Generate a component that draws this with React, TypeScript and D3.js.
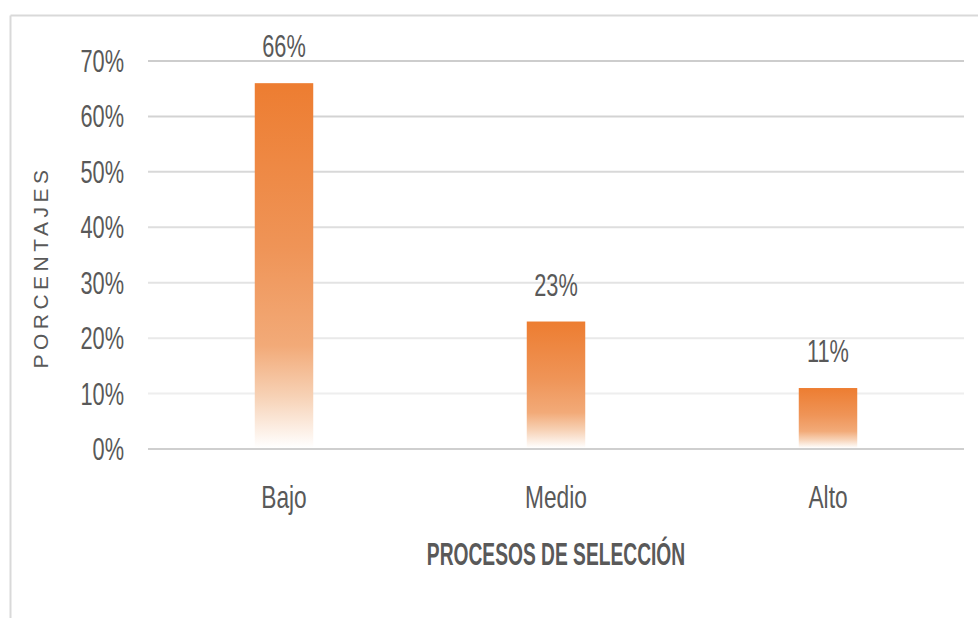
import React from "react";
import * as d3 from "d3";

const categories = ["Bajo", "Medio", "Alto"];
const values = [0.66, 0.23, 0.11];
const valueLabels = ["66%", "23%", "11%"];
const tickValues = [0, 0.1, 0.2, 0.3, 0.4, 0.5, 0.6, 0.7];
const yTitle = "PORCENTAJES";
const xTitle = "PROCESOS DE SELECCIÓN";

const W = 978;
const H = 618;
const left = 148;
const right = 964;
const top = 61;
const bottom = 449;
const textColor = "#595959";
const font = "'Liberation Sans', Arial, sans-serif";
const SX = 0.68;

export default function App() {
  const x = d3.scaleBand<string>().domain(categories).range([left, right]).paddingInner(0.785).paddingOuter(0.3925);
  const y = d3.scaleLinear().domain([0, 0.7]).range([bottom, top]);
  const gridColor = d3.scaleLinear<string>().domain([0.1, 0.7]).range(["#eeeeee", "#cdcdcd"]);
  const fmt = d3.format(".0%");

  return (
    <svg width={W} height={H} style={{ position: "absolute", left: 0, top: 0, background: "#fff" }} fontFamily={font}>
      <defs>
        <linearGradient id="barGrad" x1="0" y1="0" x2="0" y2="1">
          <stop offset="0" stopColor="#ED7D31" />
          <stop offset="0.45" stopColor="#EF9457" />
          <stop offset="0.72" stopColor="#F2AA78" />
          <stop offset="0.86" stopColor="#F7D2B6" />
          <stop offset="1" stopColor="#FFFFFF" />
        </linearGradient>
      </defs>
      <rect x={0} y={0} width={W} height={H} fill="#ffffff" />
      {/* chart frame */}
      <line x1={10.5} x2={W} y1={15.5} y2={15.5} stroke="#d9d9d9" strokeWidth={2} />
      <line x1={10.5} x2={10.5} y1={15.5} y2={H} stroke="#d9d9d9" strokeWidth={2} />

      {/* gridlines */}
      {tickValues.map((t) => (
        <line
          key={"g" + t}
          x1={left}
          x2={right}
          y1={y(t)}
          y2={y(t)}
          stroke={t === 0 ? "#cfcfcf" : gridColor(t)}
          strokeWidth={2}
        />
      ))}

      {/* tick labels */}
      {tickValues.map((t) => (
        <text
          key={"t" + t}
          transform={`translate(124,${y(t) + 11}) scale(${SX},1)`}
          textAnchor="end"
          fontSize={32}
          fill={textColor}
        >
          {fmt(t)}
        </text>
      ))}

      {/* bars */}
      {categories.map((c, i) => (
        <rect
          key={"b" + c}
          x={x(c)}
          y={y(values[i])}
          width={x.bandwidth()}
          height={y(0) - y(values[i]) - 1}
          fill="url(#barGrad)"
        />
      ))}

      {/* value labels */}
      {categories.map((c, i) => (
        <text
          key={"v" + c}
          transform={`translate(${(x(c) as number) + x.bandwidth() / 2},${y(values[i]) - 26}) scale(${SX},1)`}
          textAnchor="middle"
          fontSize={32}
          fill={textColor}
        >
          {valueLabels[i]}
        </text>
      ))}

      {/* category labels */}
      {categories.map((c) => (
        <text
          key={"c" + c}
          transform={`translate(${(x(c) as number) + x.bandwidth() / 2},508) scale(0.71,1)`}
          textAnchor="middle"
          fontSize={32}
          fill={textColor}
        >
          {c}
        </text>
      ))}

      {/* x title */}
      <text
        transform={`translate(${(left + right) / 2},565) scale(0.62,1)`}
        textAnchor="middle"
        fontSize={31}
        fontWeight="bold"
        fill={textColor}
      >
        {xTitle}
      </text>

      {/* y title */}
      <text
        transform={`translate(48,267) rotate(-90)`}
        textAnchor="middle"
        fontSize={21}
        letterSpacing={4.5}
        fill={textColor}
      >
        {yTitle}
      </text>
    </svg>
  );
}
